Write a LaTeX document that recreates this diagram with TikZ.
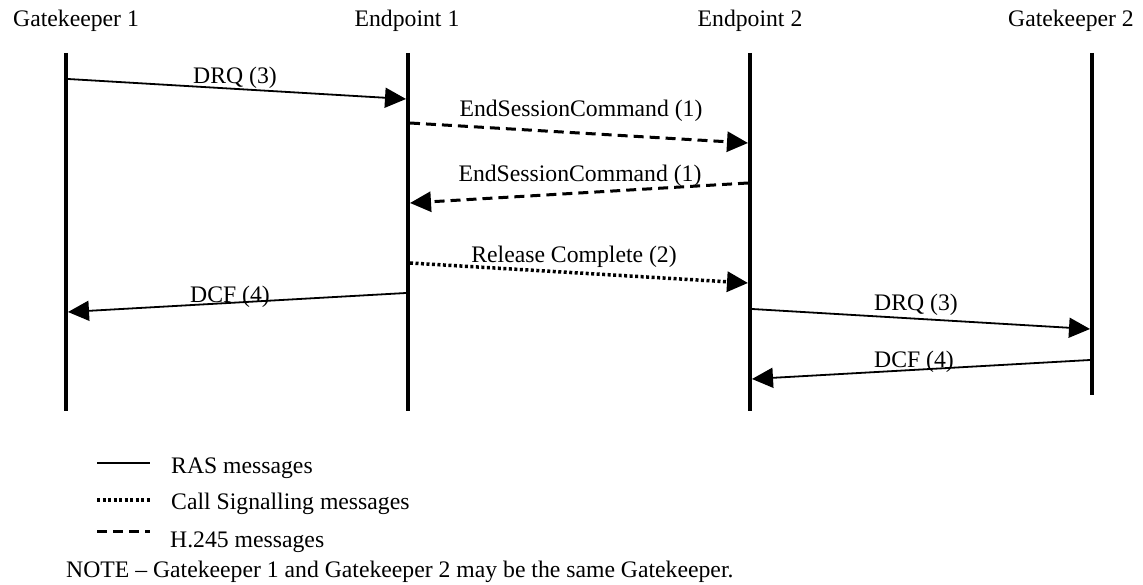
\documentclass[tikz,border=0pt]{standalone}
\usepackage{fontspec}
\setmainfont{Liberation Serif}
\usetikzlibrary{arrows.meta}
\begin{document}
\begin{tikzpicture}[x=1pt,y=-1pt,
  every node/.style={font=\fontsize{23.7}{28}\selectfont, inner sep=0pt},
  lifeline/.style={line width=4pt},
  tip/.style={-{Triangle[length=21pt,width=20pt]}},
  ras/.style={tip, line width=1.8pt},
  hmsg/.style={tip, line width=3pt, dash pattern=on 10pt off 6pt},
  csmsg/.style={tip, line width=3.5pt, dash pattern=on 3pt off 2.5pt},
  lbl/.style={anchor=base}]
\useasboundingbox (0,0) rectangle (1143,585);
% headers
\node[anchor=base west] (hg1) at (13,27) {Gatekeeper 1};
\node[anchor=base] (he1) at (407,27) {Endpoint 1};
\node[anchor=base] (he2) at (750,27) {Endpoint 2};
\node[anchor=base east] (hg2) at (1134,27) {Gatekeeper 2};
% lifelines
\coordinate (g1t) at (66,53); \coordinate (g1b) at (66,411);
\coordinate (e1t) at (408,53); \coordinate (e1b) at (408,411);
\coordinate (e2t) at (750,53); \coordinate (e2b) at (750,411);
\coordinate (g2t) at (1092,53); \coordinate (g2b) at (1092,395);
\draw[lifeline] (g1t) -- (g1b);
\draw[lifeline] (e1t) -- (e1b);
\draw[lifeline] (e2t) -- (e2b);
\draw[lifeline] (g2t) -- (g2b);
% message end points
\coordinate (m1s) at (68,79);   \coordinate (m1e) at (406,99);
\coordinate (m2s) at (410,123); \coordinate (m2e) at (748,143);
\coordinate (m3s) at (748,183); \coordinate (m3e) at (410,203);
\coordinate (m4s) at (410,263); \coordinate (m4e) at (748,283);
\coordinate (m5s) at (406,293); \coordinate (m5e) at (68,312);
\coordinate (m6s) at (752,309); \coordinate (m6e) at (1090,329);
\coordinate (m7s) at (1090,360); \coordinate (m7e) at (752,379);
% messages
\draw[ras] (m1s) -- (m1e);
\node[lbl] (l1) at (235,84) {DRQ (3)};
\draw[hmsg] (m2s) -- (m2e);
\node[lbl] (l2) at (581,117) {EndSessionCommand (1)};
\draw[hmsg] (m3s) -- (m3e);
\node[lbl] (l3) at (580,182) {EndSessionCommand (1)};
\draw[csmsg] (m4s) -- (m4e);
\node[lbl] (l4) at (574,263) {Release Complete (2)};
\draw[ras] (m5s) -- (m5e);
\node[lbl] (l5) at (230,303) {DCF (4)};
\draw[ras] (m6s) -- (m6e);
\node[lbl] (l6) at (916,311) {DRQ (3)};
\draw[ras] (m7s) -- (m7e);
\node[lbl] (l7) at (914,367) {DCF (4)};
% legend
\coordinate (k1a) at (97,463); \coordinate (k1b) at (150,463);
\coordinate (k2a) at (97,500); \coordinate (k2b) at (150,500);
\coordinate (k3a) at (97,531); \coordinate (k3b) at (150,531);
\draw[line width=1.8pt] (k1a) -- (k1b);
\draw[line width=3.5pt, dash pattern=on 3pt off 2.5pt] (k2a) -- (k2b);
\draw[line width=3pt, dash pattern=on 10pt off 6pt] (k3a) -- (k3b);
\node[anchor=base west] (t1) at (171,473) {RAS messages};
\node[anchor=base west] (t2) at (171,509) {Call Signalling messages};
\node[anchor=base west] (t3) at (170,547) {H.245 messages};
\node[anchor=base west] (note) at (66,577) {NOTE – Gatekeeper 1 and Gatekeeper 2 may be the same Gatekeeper.};
\end{tikzpicture}
\end{document}
